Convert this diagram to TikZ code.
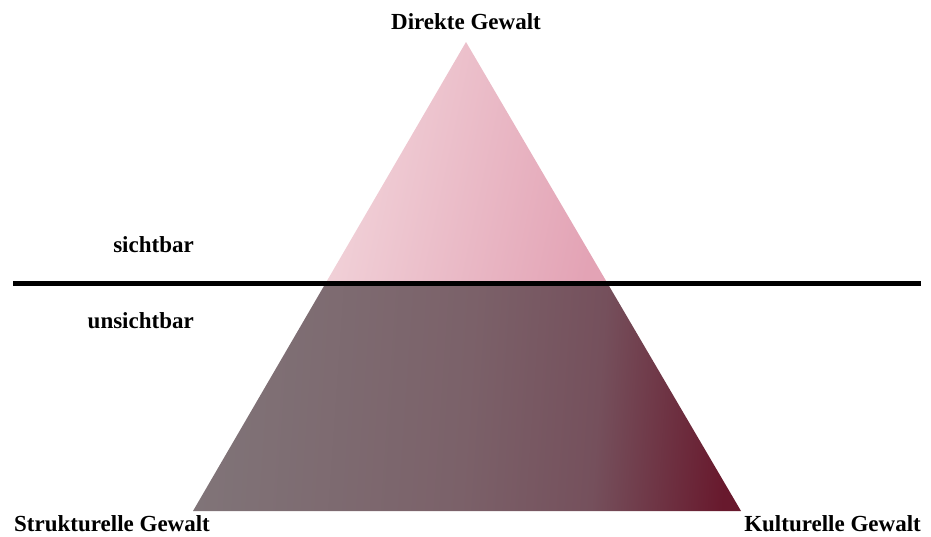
\documentclass[tikz,border=0pt]{standalone}
\usepackage{fontspec}
\setmainfont{Liberation Serif}
\definecolor{pinkL}{HTML}{F2D5DB}
\definecolor{pinkR}{HTML}{E3A3B5}
\definecolor{lowL}{HTML}{807478}
\definecolor{lowM}{HTML}{7B6169}
\definecolor{lowN}{HTML}{75505C}
\definecolor{lowR}{HTML}{68192D}
\pgfdeclarehorizontalshading{lowshade}{100bp}{color(0bp)=(lowL); color(25bp)=(lowL); color(50bp)=(lowM); color(62.5bp)=(lowN); color(75bp)=(lowR); color(100bp)=(lowR)}
\pgfdeclarehorizontalshading{upshade}{100bp}{color(0bp)=(pinkL); color(25bp)=(pinkL); color(75bp)=(pinkR); color(100bp)=(pinkR)}
\tikzset{lbl/.style={font=\fontsize{23}{26}\selectfont\bfseries, text=black, inner sep=0pt}}
\begin{document}
\begin{tikzpicture}[x=1pt,y=-1pt]
\useasboundingbox (0,0) rectangle (931,536);
\coordinate (apex) at (466,42);
\coordinate (bl) at (193,511);
\coordinate (br) at (741,511);
\coordinate (lineL) at (13,283);
\coordinate (lineR) at (921,283);
\begin{scope}
\clip (apex) -- (bl) -- (br) -- cycle;
\shade[shading=upshade, shading angle=-12] (320,42) rectangle (612,283);
\shade[shading=lowshade, shading angle=-4] (193,283) rectangle (741,512);
\end{scope}
\draw[line width=5pt] (lineL) -- (lineR);
\node[lbl] (top) at (466,22) {Direkte Gewalt};
\node[lbl, anchor=east] (sicht) at (194,245) {sichtbar};
\node[lbl, anchor=east] (unsicht) at (194,321) {unsichtbar};
\node[lbl, anchor=west] (struk) at (14,524) {Strukturelle Gewalt};
\node[lbl, anchor=east] (kult) at (921,524) {Kulturelle Gewalt};
\end{tikzpicture}
\end{document}
